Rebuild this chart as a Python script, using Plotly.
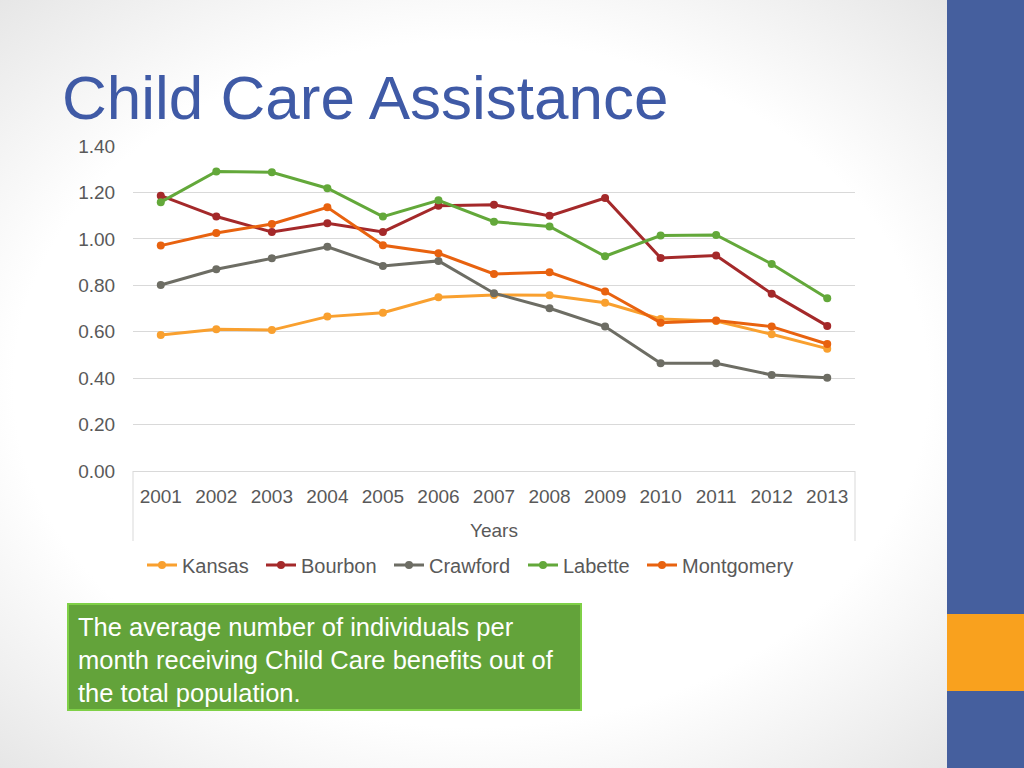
import base64
import plotly.graph_objects as go

years = ["2001", "2002", "2003", "2004", "2005", "2006", "2007",
         "2008", "2009", "2010", "2011", "2012", "2013"]

kansas     = [0.586, 0.611, 0.607, 0.665, 0.682, 0.748, 0.758, 0.757, 0.725, 0.655, 0.646, 0.589, 0.527]
bourbon    = [1.186, 1.096, 1.030, 1.067, 1.030, 1.143, 1.147, 1.099, 1.176, 0.918, 0.928, 0.764, 0.625]
crawford   = [0.801, 0.869, 0.916, 0.966, 0.883, 0.905, 0.766, 0.701, 0.622, 0.464, 0.464, 0.414, 0.402]
labette    = [1.158, 1.290, 1.287, 1.218, 1.096, 1.166, 1.074, 1.053, 0.925, 1.014, 1.017, 0.892, 0.744]
montgomery = [0.971, 1.025, 1.064, 1.136, 0.972, 0.938, 0.849, 0.856, 0.773, 0.639, 0.648, 0.622, 0.547]

series_names = ["Kansas", "Bourbon", "Crawford", "Labette", "Montgomery"]
series_vals = [kansas, bourbon, crawford, labette, montgomery]
series_colors = ["#F9A02F", "#A4292A", "#6D6D64", "#63A83A", "#E8620F"]

y_ticks = [0.0, 0.2, 0.4, 0.6, 0.8, 1.0, 1.2, 1.4]
y_tick_labels = ["0.00", "0.20", "0.40", "0.60", "0.80", "1.00", "1.20", "1.40"]

W, H = 1024, 768
L, R, T, B = 133, 855, 146, 471


def px(x):
    return (x - L) / (R - L)


def py(y):
    return (B - y) / (B - T)


legend_ids = ["legend", "legend2", "legend3", "legend4", "legend5"]
legend_x = [142, 261, 389, 523, 642]

fig = go.Figure()
for name, vals, col, lid in zip(series_names, series_vals, series_colors, legend_ids):
    fig.add_trace(go.Scatter(
        x=years, y=vals, name=name, mode="lines+markers",
        line=dict(color=col, width=3),
        marker=dict(color=col, size=8),
        legend=lid,
    ))

axis_font = dict(family="Liberation Sans, Arial, sans-serif", size=19, color="#595959")
legend_font = dict(family="Liberation Sans, Arial, sans-serif", size=20, color="#595959")

legend_layout = {}
for lid, lx in zip(legend_ids, legend_x):
    legend_layout[lid] = dict(
        orientation="h", x=px(lx), y=py(565), xanchor="left", yanchor="middle",
        font=legend_font, itemwidth=30, bgcolor="rgba(0,0,0,0)",
    )

svg = ("<svg xmlns='http://www.w3.org/2000/svg' width='1024' height='768' "
       "viewBox='0 0 1024 768' preserveAspectRatio='none'><defs>"
       "<radialGradient id='g' cx='0.46' cy='0.5' r='0.72'>"
       "<stop offset='0.62' stop-color='#ffffff'/>"
       "<stop offset='1' stop-color='#e2e2e2'/></radialGradient></defs>"
       "<rect width='1024' height='768' fill='url(#g)'/></svg>")
bg_src = "data:image/svg+xml;base64," + base64.b64encode(svg.encode()).decode()

fig.update_layout(
    width=W, height=H,
    margin=dict(l=L, r=W - R, t=T, b=H - B, pad=0),
    paper_bgcolor="white",
    plot_bgcolor="rgba(0,0,0,0)",
    showlegend=True,
    xaxis=dict(
        type="category", range=[-0.5, 12.5], showgrid=False,
        tickfont=axis_font, ticks="outside", ticklen=8, tickcolor="rgba(0,0,0,0)",
        showline=False, zeroline=False,
        title=dict(text="Years", font=axis_font, standoff=17),
    ),
    yaxis=dict(
        range=[0, 1.4], tickvals=y_ticks, ticktext=y_tick_labels,
        showgrid=True, gridcolor="#D9D9D9", gridwidth=1,
        zeroline=True, zerolinecolor="#D9D9D9", zerolinewidth=1,
        tickfont=axis_font, ticks="outside", ticklen=13, tickcolor="rgba(0,0,0,0)",
        showline=False,
    ),
    font=dict(family="Liberation Sans, Arial, sans-serif"),
    images=[dict(source=bg_src, xref="paper", yref="paper",
                 x=px(0), y=py(0), sizex=W / (R - L), sizey=H / (B - T),
                 xanchor="left", yanchor="top", sizing="stretch", layer="below")],
    **legend_layout,
)

shapes = [
    # axis area side borders
    dict(type="line", xref="paper", yref="paper", x0=0, x1=0, y0=0, y1=py(541),
         line=dict(color="#D9D9D9", width=1)),
    dict(type="line", xref="paper", yref="paper", x0=1, x1=1, y0=0, y1=py(541),
         line=dict(color="#D9D9D9", width=1)),
    # right sidebar
    dict(type="rect", xref="paper", yref="paper", x0=px(947), x1=px(1030), y0=py(-5), y1=py(775),
         fillcolor="#455F9E", line=dict(width=0), layer="below"),
    dict(type="rect", xref="paper", yref="paper", x0=px(947), x1=px(1030), y0=py(691), y1=py(614),
         fillcolor="#F9A11E", line=dict(width=0), layer="below"),
    # green text box
    dict(type="rect", xref="paper", yref="paper", x0=px(68), x1=px(581), y0=py(710), y1=py(604),
         fillcolor="#63A33A", line=dict(color="#7FD047", width=2)),
]
fig.update_layout(shapes=shapes)

fig.add_annotation(
    text="Child Care Assistance", xref="paper", yref="paper",
    x=px(60), y=py(97), xanchor="left", yanchor="middle", showarrow=False,
    font=dict(family="Liberation Sans, Arial, sans-serif", size=62, color="#3F5AA6"),
)
fig.add_annotation(
    text="The average number of individuals per<br>month receiving Child Care benefits out of<br>the total population.",
    xref="paper", yref="paper", x=px(76), y=py(660), xanchor="left", yanchor="middle",
    align="left", showarrow=False,
    font=dict(family="Liberation Sans, Arial, sans-serif", size=25.5, color="white"),
)

fig.write_html("out.html", config={"displayModeBar": False},
               post_script="document.body.style.margin='0';")
